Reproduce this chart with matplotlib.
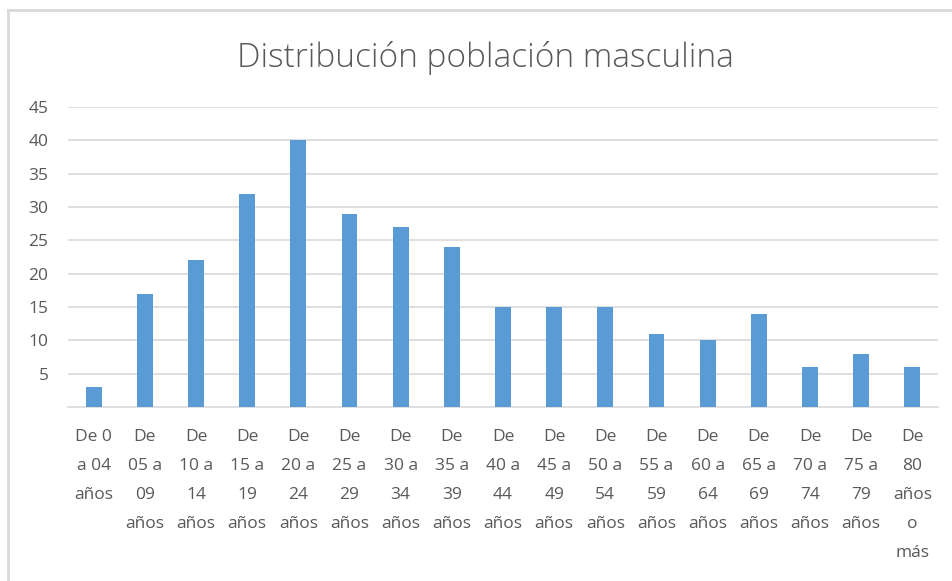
import matplotlib.pyplot as plt
from matplotlib.lines import Line2D

# -----------------------------------------------------------------------------
# Data
# -----------------------------------------------------------------------------
categories = [
    "De 0\na 04\naños", "De\n05 a\n09\naños", "De\n10 a\n14\naños",
    "De\n15 a\n19\naños", "De\n20 a\n24\naños", "De\n25 a\n29\naños",
    "De\n30 a\n34\naños", "De\n35 a\n39\naños", "De\n40 a\n44\naños",
    "De\n45 a\n49\naños", "De\n50 a\n54\naños", "De\n55 a\n59\naños",
    "De\n60 a\n64\naños", "De\n65 a\n69\naños", "De\n70 a\n74\naños",
    "De\n75 a\n79\naños", "De\n80\naños\no\nmás",
]
values = [3, 17, 22, 32, 40, 29, 27, 24, 15, 15, 15, 11, 10, 14, 6, 8, 6]
yticks = [5, 10, 15, 20, 25, 30, 35, 40, 45]

title = "Distribución población masculina"

bar_color = "#5b9bd5"
grid_color = "#d9d9d9"
text_color = "#595959"

plt.rcParams['font.family'] = ['Open Sans', 'DejaVu Sans']

fig = plt.figure(figsize=(9.52, 5.81), dpi=100)
ax = fig.add_axes([68 / 952, 1 - 407 / 581, 870 / 952, 300 / 581])

x = list(range(len(values)))
ax.bar(x, values, width=0.31, color=bar_color, zorder=3)

ax.set_xlim(-0.5, len(values) - 0.5)
ax.set_ylim(0, 45)
ax.set_yticks(yticks)
ax.set_xticks(x)
ax.set_xticklabels(categories, fontsize=12.5, color=text_color, linespacing=2.07,
                   va='top', ha='center', multialignment='center')
ax.tick_params(axis='x', length=0, pad=16)
ax.tick_params(axis='y', length=0, pad=14, labelsize=12.5, labelcolor=text_color)

ax.grid(axis='y', color=grid_color, linewidth=1.2, zorder=0)
for side in ['top', 'right', 'left']:
    ax.spines[side].set_visible(False)
ax.spines['bottom'].set_color(grid_color)
ax.spines['bottom'].set_linewidth(1.2)

fig.text(0.51, 1 - 58 / 581, title, ha='center', va='center',
         fontsize=24, color=text_color, fontweight='light')

# chart frame (top and left edges visible)
fig.add_artist(Line2D([8 / 952, 1], [1 - 10 / 581, 1 - 10 / 581],
                      color=grid_color, linewidth=2, transform=fig.transFigure))
fig.add_artist(Line2D([8 / 952, 8 / 952], [0, 1 - 10 / 581],
                      color=grid_color, linewidth=2, transform=fig.transFigure))

fig.savefig("out.png", dpi=100)
